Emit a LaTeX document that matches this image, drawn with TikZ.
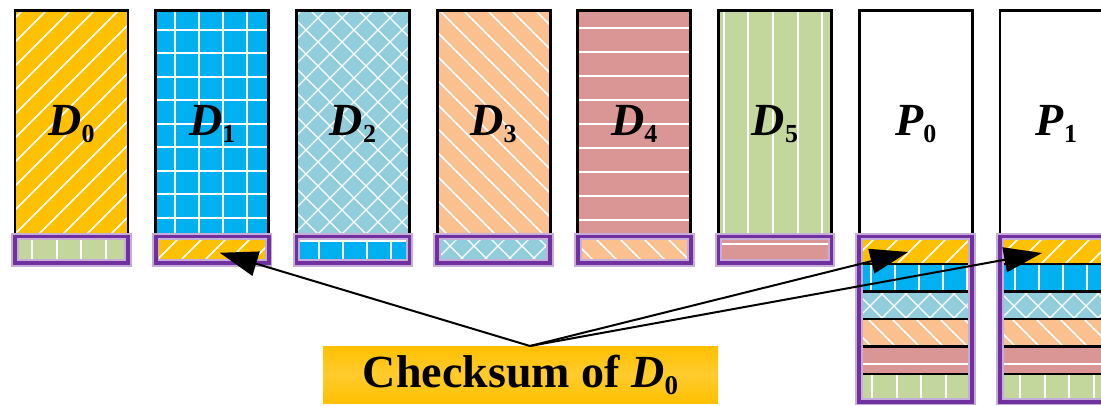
\documentclass[tikz,border=0pt]{standalone}
\usepackage{fontspec}
\setmainfont{Liberation Serif}
\usetikzlibrary{arrows.meta}

\definecolor{cY}{HTML}{FFC000}
\definecolor{cB}{HTML}{00B0F0}
\definecolor{cT}{HTML}{92CDDC}
\definecolor{cO}{HTML}{FAC090}
\definecolor{cR}{HTML}{D99694}
\definecolor{cG}{HTML}{C3D69B}
\definecolor{cP}{HTML}{7030A0}

% hatch patterns, drawn on a grid shared by the whole picture
\newcommand\patY{\foreach \a in {-411,-387,...,1110} \draw[wd] (\a,420) -- ++(420,-420);}
\newcommand\patB{\foreach \a in {7,31,...,1100} \draw[wl] (\a,0) -- (\a,420);
  \foreach \b in {30,53.5,...,242} \draw[wl] (0,\b) -- (1110,\b);}
\newcommand\patT{\foreach \a in {-420,-396,...,1100} {\draw[wx] (\a,0) -- ++(420,420); \draw[wx] (\a,420) -- ++(420,-420);}}
\newcommand\patO{\foreach \a in {-411,-387,...,1110} \draw[wd] (\a,0) -- ++(420,420);}
\newcommand\patR{\foreach \b in {28,52,...,412} \draw[wl] (0,\b) -- (1110,\b);}
\newcommand\patG{\foreach \a in {32,56.7,...,1100} \draw[wl] (\a,0) -- (\a,420);}

% one filled, hatched rectangle: kind, x1, y1, x2, y2
\newcommand\cell[5]{\begin{scope}
  \clip (#2,#3) rectangle (#4,#5);
  \fill[fill=c#1] (#2,#3) rectangle (#4,#5);
  \csname pat#1\endcsname
\end{scope}}

% block label: letter with an upright subscript
\newcommand\lbl[2]{{\fontsize{46}{46}\selectfont\bfseries\itshape #1}\raisebox{-7pt}{\fontsize{26}{26}\selectfont\bfseries #2}}

\begin{document}
\begin{tikzpicture}[x=1pt,y=-1pt,
  wl/.style={white,line width=2pt},
  wd/.style={white,line width=1.6pt},
  wx/.style={white,line width=1.3pt},
  colframe/.style={draw=black,line width=2.8pt,minimum width=113pt,minimum height=225.8pt,inner sep=0pt,outer sep=0pt},
  ckframe/.style={draw=cP,line width=3.6pt,inner sep=0pt,outer sep=0pt,minimum width=113pt,preaction={draw=cP!40,line width=7.5pt}},
  sep/.style={black,line width=2.6pt},
  arr/.style={black,line width=2pt,-{Triangle[length=38pt,width=25pt]}},
  lab/.style={minimum width=395pt,minimum height=57pt,inner sep=0pt,outer sep=0pt,
    top color=cY,bottom color=cY,middle color=cY!82!white}]

\clip (0,0) rectangle (1101,406);

% data blocks and their checksum slots (checksum of D_i kept under D_{i+1})
\foreach \k [count=\i from 0] in {Y,B,T,O,R,G} {
  \pgfmathsetmacro\xa{15+140.7*\i}
  \pgfmathsetmacro\xb{\xa+113}
  \cell{\k}{\xa}{10.7}{\xb}{236.5}
}
\foreach \k [count=\i from 0] in {G,Y,B,T,O,R} {
  \pgfmathsetmacro\xa{15+140.7*\i}
  \pgfmathsetmacro\xb{\xa+113}
  \cell{\k}{\xa}{236.5}{\xb}{263}
}
\foreach \i in {0,...,5} {
  \pgfmathsetmacro\xc{71.5+140.7*\i}
  \node[colframe] (D\i) at (\xc,123.6) {\lbl{D}{\i}};
}
\foreach \i in {0,...,5} {
  \pgfmathsetmacro\xc{71.5+140.7*\i}
  \node[ckframe,minimum height=26.5pt] (c\i) at (\xc,249.75) {};
}

% parity blocks with the stacked checksums of all data blocks
\foreach \j in {0,1} {
  \pgfmathsetmacro\xa{859.2+140.8*\j}
  \pgfmathsetmacro\xb{\xa+113}
  \pgfmathsetmacro\xc{\xa+56.5}
  \node[colframe,fill=white] (P\j) at (\xc,123.6) {\lbl{P}{\j}};
  \foreach \k [count=\n from 0] in {Y,B,T,O,R,G} {
    \pgfmathsetmacro\ya{236.5+27.53*\n}
    \pgfmathsetmacro\yb{\ya+27.53}
    \cell{\k}{\xa}{\ya}{\xb}{\yb}
  }
  \foreach \n in {1,...,5} \draw[sep] (\xa,{236.5+27.53*\n}) -- (\xb,{236.5+27.53*\n});
  \node[ckframe,minimum height=165.2pt] (s\j) at (\xc,319.1) {};
}

% caption and pointers to where the checksum of D_0 is stored
\node[lab] (lab) at (520.5,374.5)
  {\fontsize{46}{46}\selectfont\bfseries Checksum of \textit{D}\raisebox{-7pt}{\fontsize{27}{27}\selectfont 0}};
\coordinate (t1) at ([shift={(64,3)}]c1.west);
\coordinate (t2) at ([shift={(49,15.5)}]s0.north west);
\coordinate (t3) at ([shift={(42,16.5)}]s1.north west);
\draw[arr] ([xshift=9.5pt]lab.north) -- (t1);
\draw[arr] ([xshift=9.5pt]lab.north) -- (t2);
\draw[arr] ([xshift=9.5pt]lab.north) -- (t3);
\end{tikzpicture}
\end{document}
